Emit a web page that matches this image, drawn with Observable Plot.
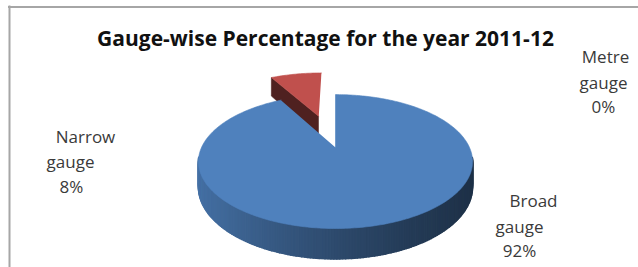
<!DOCTYPE html>
<html><head><meta charset="utf-8">
<script src="https://cdn.jsdelivr.net/npm/d3@7"></script>
<script src="https://cdn.jsdelivr.net/npm/@observablehq/plot@0.6"></script>
<style>html,body{margin:0;padding:0;background:#fff;overflow:hidden}</style>
</head><body><div id="chart"></div>
<script>
// ---- data ----
const title = "Gauge-wise Percentage for the year 2011-12";
const categories = ["Broad gauge", "Narrow gauge", "Metre gauge"];
const values = [92, 8, 0];
const sliceColors = ["#4f81bd", "#c0504d", "#9bbb59"];
const explode = [0, 0.56, 0];

// ---- layout ----
const W = 638, H = 267;
const cx = 335, cy = 147, rx = 134, ry = 64, k = 0.21, D = 24;
// label line centres per category (layout only)
const labelPos = [
  [[533, 201], [519, 227], [519, 251]],
  [[85, 137], [70, 162], [71, 187]],
  [[605, 57], [603, 83], [603, 107]]
];

function P(u, v, h) {
  const s = 1 / (1 - k * v);
  return {x: cx + rx * u * s, y: cy + (ry * v + D * h) * s};
}
const uv = (a) => [Math.sin(a), -Math.cos(a)];

const total = d3.sum(values);
const data = categories.map((c, i) => ({category: c, value: values[i], color: sliceColors[i], explode: explode[i]}));
const arcs = d3.pie().sort(null).value(d => d.value)(data);

const step = Math.PI / 180;
const layers = [];
let pid = 0;
const drawn = arcs.filter(a => a.endAngle - a.startAngle > 1e-9)
  .map(a => {
    const mid = (a.startAngle + a.endAngle) / 2;
    const [mu, mv] = uv(mid);
    return {...a, ou: mu * a.data.explode, ov: mv * a.data.explode, mv};
  })
  .sort((a, b) => a.mv - b.mv);

const xMin = cx - rx / Math.sqrt(1 - k * k), xMax = cx + rx / Math.sqrt(1 - k * k);
for (const a of drawn) {
  const base = d3.color(a.data.color);
  const angs = [];
  const n = Math.max(2, Math.ceil((a.endAngle - a.startAngle) / step));
  for (let i = 0; i <= n; i++) angs.push(a.startAngle + (a.endAngle - a.startAngle) * i / n);
  const pt = (t, h) => { const [u, v] = uv(t); return P(a.ou + u, a.ov + v, h); };
  const apex = (h) => P(a.ou, a.ov, h);
  const radial = [];
  const edges = [[a.startAngle, a.startAngle - Math.PI / 2], [a.endAngle, a.endAngle + Math.PI / 2]];
  for (const [t, nrm] of edges) {
    if (uv(nrm)[1] > 0.05) {
      const id = pid++;
      const fill = base.darker(2.5).formatHex();
      for (const p of [apex(0), pt(t, 0), pt(t, 1), apex(1)]) radial.push({id, ...p, fill});
    }
  }
  const side = [];
  for (let i = 0; i < angs.length - 1; i++) {
    const t0 = angs[i], t1 = angs[i + 1];
    const vm = uv((t0 + t1) / 2)[1] + a.ov;
    if (vm < k - 0.06) continue;
    const p0 = pt(t0, 0), p1 = pt(t1, 0);
    const tx = Math.max(0, Math.min(1, ((p0.x + p1.x) / 2 - xMin) / (xMax - xMin)));
    const fill = base.darker(0.4 + 2.3 * tx).formatHex();
    const id = pid++;
    for (const p of [p0, p1, pt(t1, 1), pt(t0, 1)]) side.push({id, ...p, fill});
  }
  const top = [];
  const id = pid++;
  top.push({id, ...apex(0), fill: a.data.color});
  for (const t of angs) top.push({id, ...pt(t, 0), fill: a.data.color});
  layers.push({rows: radial, sw: 0.6}, {rows: side, sw: 1.6}, {rows: top, sw: 0.6});
}

const labels = [];
arcs.forEach((a, i) => {
  const pct = Math.round(a.data.value / total * 100) + "%";
  const lines = a.data.category.split(" ").concat([pct]);
  lines.forEach((t, j) => labels.push({text: t, x: labelPos[i][j][0], y: labelPos[i][j][1]}));
});

const polyMarks = layers.filter(l => l.rows.length).map(l =>
  Plot.line(l.rows, {x: "x", y: "y", z: "id", fill: "fill", stroke: "fill", strokeWidth: l.sw, strokeLinejoin: "round", curve: "linear"}));

const chart = Plot.plot({
  width: W, height: H,
  margin: 0,
  x: {domain: [0, W], range: [0, W], axis: null},
  y: {domain: [0, H], range: [0, H], axis: null},
  style: {background: "#fff"},
  marks: [
    Plot.ruleY([0], {y: () => 6.5, x1: 8, x2: W, stroke: "#a6a6a6", strokeWidth: 2}),
    Plot.ruleX([0], {x: () => 9, y1: 5.5, y2: H, stroke: "#a6a6a6", strokeWidth: 2}),
    ...polyMarks,
    Plot.text([title], {x: () => 325, y: () => 39, text: d => d, fontFamily: "Open Sans", fontWeight: "bold", fontSize: 21, fill: "#111"}),
    Plot.text(labels, {x: "x", y: "y", text: "text", fontFamily: "Open Sans", fontSize: 17, fill: "#3a3a3a"})
  ]
});
document.getElementById("chart").append(chart);
</script>
</body></html>
